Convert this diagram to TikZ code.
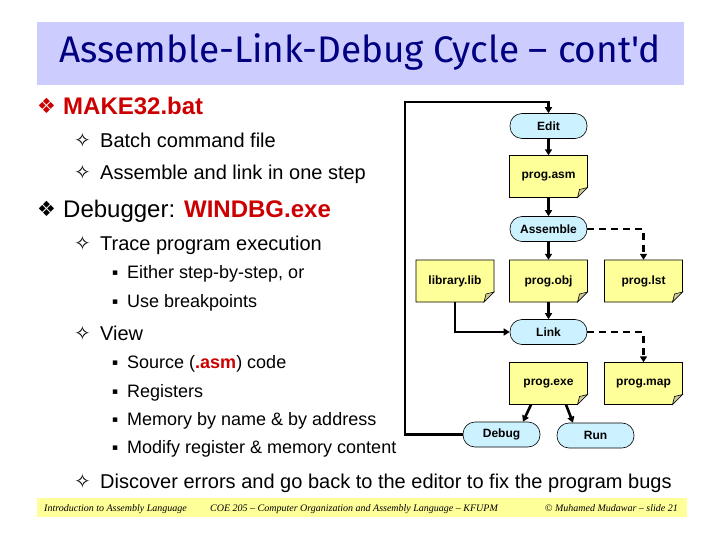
\documentclass[tikz,border=0pt]{standalone}
\usepackage{fontspec}
\setmainfont{Liberation Sans}
\newfontfamily\symf{DejaVu Sans}
\newfontfamily\titlef{Fira Sans}
\newfontfamily\footf{Liberation Serif}
\usetikzlibrary{arrows.meta}
\definecolor{titlebg}{RGB}{204,204,255}
\definecolor{titlefg}{RGB}{0,0,128}
\definecolor{redtxt}{RGB}{204,0,0}
\definecolor{capfill}{RGB}{204,242,255}
\definecolor{notefill}{RGB}{255,255,153}
\definecolor{foldfill}{RGB}{204,204,153}
\definecolor{footbg}{RGB}{255,255,153}
\newcommand\mknote[4]{%
  \draw[line width=0.6pt, fill=notefill] ({#2-39},{#3-21}) -- ({#2+39},{#3-21}) -- ({#2+39},{#3+11}) -- ({#2+29},{#3+21}) -- ({#2-39},{#3+21}) -- cycle;
  \draw[line width=0.6pt, fill=foldfill] ({#2+39},{#3+11}) -- ({#2+29},{#3+21}) -- ({#2+31},{#3+13}) -- cycle;
  \node[notenode] (#1) at (#2,#3) {#4};}
\begin{document}
\begin{tikzpicture}[x=1pt,y=-1pt,
  capsule/.style={draw=black, line width=0.6pt, fill=capfill, rounded corners=12pt, minimum width=77pt, minimum height=25pt, inner sep=0pt, font=\fontsize{12}{14}\selectfont\bfseries},
  notenode/.style={minimum width=78pt, minimum height=42pt, inner sep=0pt, font=\fontsize{12}{14}\selectfont\bfseries},
  flow/.style={line width=2.6pt, -{Triangle[length=6pt,width=7pt]}},
  opt/.style={flow, dash pattern=on 7pt off 5pt},
  lvlA/.style={anchor=base west, inner sep=0pt, font=\fontsize{24}{28}\selectfont},
  lvlB/.style={anchor=base west, inner sep=0pt, font=\fontsize{20}{24}\selectfont},
  lvlC/.style={anchor=base west, inner sep=0pt, font=\fontsize{18}{22}\selectfont},
  bulA/.style={anchor=base west, inner sep=0pt, font=\symf\fontsize{21}{24}\selectfont},
  bulB/.style={anchor=base west, inner sep=0pt, font=\symf\fontsize{20}{24}\selectfont},
  bulC/.style={anchor=base west, inner sep=0pt, font=\symf\fontsize{9}{11}\selectfont},
  foot/.style={inner sep=0pt, font=\footf\itshape\fontsize{10}{12}\selectfont}]
\useasboundingbox (0,0) rectangle (720,540);
% title
\fill[titlebg] (37,22) rectangle (684,85);
\node[inner sep=0pt, text=titlefg, font=\titlef\fontsize{37}{40}\selectfont] (title) at (360,52) {Assemble-Link-Debug Cycle – cont'd};
% text
\node[bulA, text=redtxt] (b1) at (37,114) {❖};
\node[lvlA, text=redtxt, font=\fontsize{24}{28}\selectfont\bfseries] (t1) at (63,115) {MAKE32.bat};
\node[bulB] (b2) at (74,148) {✧};
\node[lvlB] (t2) at (100,148) {Batch command file};
\node[bulB] (b3) at (74,180) {✧};
\node[lvlB] (t3) at (100,180) {Assemble and link in one step};
\node[bulA] (b4) at (37,217) {❖};
\node[lvlA] (t4) at (63,218) {Debugger: \textcolor{redtxt}{\bfseries WINDBG.exe}};
\node[bulB] (b5) at (74,251) {✧};
\node[lvlB] (t5) at (100,251) {Trace program execution};
\node[bulC] (b6) at (112,275) {▪};
\node[lvlC] (t6) at (127,278) {Either step-by-step, or};
\node[bulC] (b7) at (112,304) {▪};
\node[lvlC] (t7) at (127,307) {Use breakpoints};
\node[bulB] (b8) at (74,340) {✧};
\node[lvlB] (t8) at (100,340) {View};
\node[bulC] (b9) at (112,365) {▪};
\node[lvlC] (t9) at (127,368) {Source (\textcolor{redtxt}{\bfseries .asm}) code};
\node[bulC] (b10) at (112,394) {▪};
\node[lvlC] (t10) at (127,397) {Registers};
\node[bulC] (b11) at (112,422) {▪};
\node[lvlC] (t11) at (127,425) {Memory by name \& by address};
\node[bulC] (b12) at (112,450) {▪};
\node[lvlC] (t12) at (127,453) {Modify register \& memory content};
\node[bulB] (b13) at (74,488) {✧};
\node[lvlB] (t13) at (100,488) {Discover errors and go back to the editor to fix the program bugs};
% footer
\fill[footbg] (37,498) rectangle (687,517);
\node[foot, anchor=base west] (f1) at (44,511) {Introduction to Assembly Language};
\node[foot, anchor=base west] (f2) at (210,511) {COE 205 – Computer Organization and Assembly Language – KFUPM};
\node[foot, anchor=base east] (f3) at (678,511) {© Muhamed Mudawar – slide 21};
% diagram
\node[capsule] (edit) at (548.5,126) {Edit};
\mknote{asm}{548.5}{176.5}{prog.asm}
\node[capsule] (assemble) at (548.5,229) {Assemble};
\mknote{lib}{455}{281}{library.lib}
\mknote{obj}{548.5}{281}{prog.obj}
\mknote{lst}{643.5}{281}{prog.lst}
\node[capsule] (link) at (548.5,332) {Link};
\mknote{exe}{548.5}{383.5}{prog.exe}
\mknote{map}{643.5}{383.5}{prog.map}
\node[capsule] (debug) at (501.5,434.5) {Debug};
\node[capsule] (run) at (595.5,435.5) {Run};
\coordinate (loop) at (405,102);
% connectors
\draw[flow] (debug.west) -| (loop) -| (edit.north);
\draw[flow] (edit) -- (asm);
\draw[flow] (asm) -- (assemble);
\draw[flow] (assemble) -- (obj);
\draw[opt] (assemble.east) -| (lst.north);
\draw[flow] (obj) -- (link);
\draw[flow] (lib.south) |- (link.west);
\draw[opt] (link.east) -| (map.north);
\draw[flow] ([xshift=-17.5pt]exe.south) -- ([xshift=21.5pt]debug.north);
\draw[flow] ([xshift=17.5pt]exe.south) -- ([xshift=-22.5pt]run.north);
\end{tikzpicture}
\end{document}
